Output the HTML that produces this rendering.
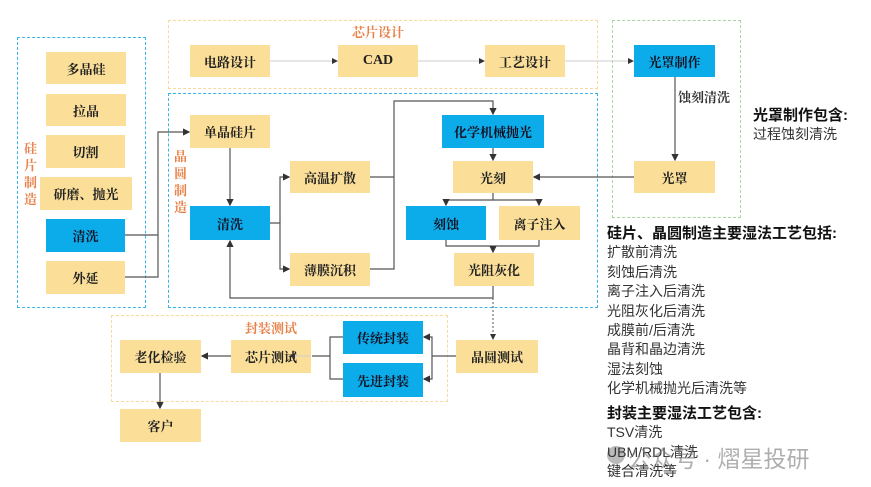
<!DOCTYPE html>
<html><head><meta charset="utf-8"><style>
body{margin:0;width:871px;height:487px;background:#fff;position:relative;overflow:hidden;font-family:"Liberation Serif","Noto Serif CJK SC",serif}
.b{position:absolute;display:flex;align-items:center;justify-content:center;font-weight:bold;font-size:13px;color:#222;background:#fbdf98}
.u{background:#0cacea;color:#112}
.d{position:absolute;box-sizing:border-box}
.t{position:absolute;font-family:"Liberation Sans","Noto Sans CJK SC",sans-serif;font-size:14px;color:#333;line-height:19.3px}
.o{position:absolute;color:#e8824a;font-size:13px;font-weight:bold}
</style></head><body>
<div class="d" style="left:17px;top:37px;width:129px;height:271px;border:1.5px dashed #3db4e8"></div>
<div class="d" style="left:168px;top:20px;width:430px;height:69px;border:1.5px dashed #f8d9a0"></div>
<div class="d" style="left:168px;top:93px;width:430px;height:215px;border:1.5px dashed #3db4e8"></div>
<div class="d" style="left:612px;top:20px;width:129px;height:198px;border:1.5px dashed #a8d5a0"></div>
<div class="d" style="left:111px;top:315px;width:337px;height:87px;border:1.5px dashed #f8d9a0"></div>
<div class="o" style="left:352px;top:22px">芯片设计</div>
<div class="o" style="left:24px;top:140px;width:14px;line-height:17px">硅片制造</div>
<div class="o" style="left:174px;top:148px;width:14px;line-height:17px">晶圆制造</div>
<div class="o" style="left:245px;top:318px">封装测试</div>
<div class="b" style="left:46px;top:52px;width:80px;height:32px">多晶硅</div>
<div class="b" style="left:46px;top:94px;width:80px;height:32px">拉晶</div>
<div class="b" style="left:46px;top:135px;width:79px;height:33px">切割</div>
<div class="b" style="left:40px;top:177px;width:92px;height:33px">研磨、抛光</div>
<div class="b u" style="left:46px;top:219px;width:79px;height:33px">清洗</div>
<div class="b" style="left:46px;top:261px;width:79px;height:33px">外延</div>
<div class="b" style="left:190px;top:45px;width:80px;height:32px">电路设计</div>
<div class="b" style="left:338px;top:45px;width:80px;height:32px;font-family:'Liberation Serif',serif;font-size:14px">CAD</div>
<div class="b" style="left:485px;top:45px;width:80px;height:32px">工艺设计</div>
<div class="b u" style="left:634px;top:45px;width:81px;height:32px">光罩制作</div>
<div class="b" style="left:634px;top:161px;width:81px;height:32px">光罩</div>
<div class="b" style="left:190px;top:115px;width:80px;height:33px">单晶硅片</div>
<div class="b u" style="left:190px;top:206px;width:80px;height:34px">清洗</div>
<div class="b" style="left:290px;top:161px;width:80px;height:32px">高温扩散</div>
<div class="b" style="left:290px;top:253px;width:80px;height:33px">薄膜沉积</div>
<div class="b u" style="left:442px;top:115px;width:102px;height:33px">化学机械抛光</div>
<div class="b" style="left:453px;top:161px;width:80px;height:32px">光刻</div>
<div class="b u" style="left:406px;top:206px;width:80px;height:34px">刻蚀</div>
<div class="b" style="left:499px;top:206px;width:81px;height:34px">离子注入</div>
<div class="b" style="left:454px;top:253px;width:80px;height:33px">光阻灰化</div>
<div class="b" style="left:120px;top:340px;width:81px;height:33px">老化检验</div>
<div class="b" style="left:231px;top:340px;width:80px;height:33px">芯片测试</div>
<div class="b u" style="left:343px;top:321px;width:80px;height:33px">传统封装</div>
<div class="b u" style="left:343px;top:363px;width:80px;height:34px">先进封装</div>
<div class="b" style="left:456px;top:340px;width:82px;height:33px">晶圆测试</div>
<div class="b" style="left:120px;top:409px;width:81px;height:33px">客户</div>
<div style="position:absolute;left:678px;top:87px;font-size:13px;font-weight:bold;color:#333">蚀刻清洗</div>
<svg width="871" height="487" style="position:absolute;left:0;top:0" fill="none">
<defs><marker id="a" markerWidth="6" markerHeight="6" refX="5" refY="3" orient="auto"><path d="M0,0L6,3L0,6z" fill="#333"/></marker></defs>
<g stroke="#ccc" stroke-width="1" marker-end="url(#a)">
<path d="M270 61H337"/><path d="M418 61H484"/><path d="M565 61H633"/><path d="M311 356H290"/>
</g>
<g stroke="#555" stroke-width="1.2" marker-end="url(#a)">
<path d="M675 77V160"/><path d="M634 177H534"/>
<path d="M125 235H158M125 277H158V132H189"/>
<path d="M230 148V205"/>
<path d="M270 223H280V177H289"/><path d="M280 223V269H289"/>
<path d="M370 177H394M370 269H394V101H493V114"/>
<path d="M493 148V160"/>
<path d="M493 193V200H446V205"/><path d="M493 200H539V205"/>
<path d="M446 240V246H539V240M493 246V252"/>
<path d="M493 286V298H230V241"/>
<path d="M456 356H432V337H424"/><path d="M432 356V379H424"/>
<path d="M343 337H330V379H343M330 356H312" marker-end="none"/>
<path d="M231 356H202"/>
<path d="M160 373V408"/>
</g>
<path d="M493 298V339" stroke="#555" stroke-dasharray="2 2" marker-end="url(#a)"/>
<circle cx="616" cy="455" r="9" fill="rgba(120,120,120,0.5)"/>
</svg>
<div class="t" style="left:753px;top:106px"><b style="color:#111;font-size:15px">光罩制作包含:</b><br>过程蚀刻清洗</div>
<div class="t" style="left:607px;top:224px;line-height:19.4px"><b style="color:#111;font-size:15px">硅片、晶圆制造主要湿法工艺包括:</b><br>扩散前清洗<br>刻蚀后清洗<br>离子注入后清洗<br>光阻灰化后清洗<br>成膜前/后清洗<br>晶背和晶边清洗<br>湿法刻蚀<br>化学机械抛光后清洗等</div>
<div class="t" style="left:607px;top:404px;line-height:19.4px"><b style="color:#111;font-size:15px">封装主要湿法工艺包含:</b><br>TSV清洗<br>UBM/RDL清洗<br>键合清洗等</div>
<div style="position:absolute;left:628px;top:440px;font-family:'Liberation Sans','Noto Sans CJK SC',sans-serif;font-size:23px;color:rgba(120,120,120,0.6)">公众号 · 熠星投研</div>
</body></html>
